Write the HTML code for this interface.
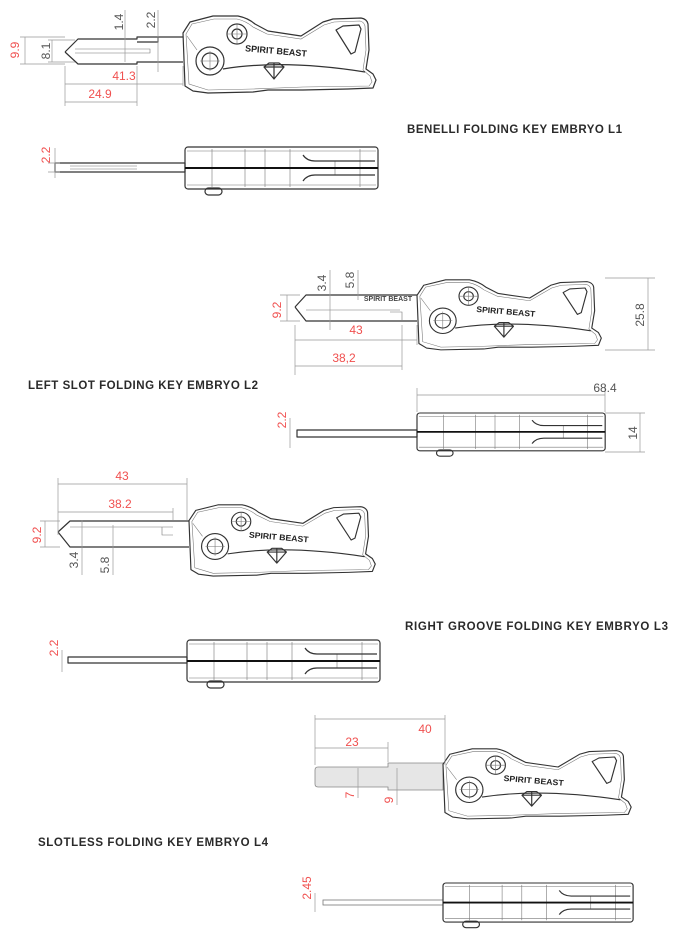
<!DOCTYPE html>
<html><head><meta charset="utf-8"><style>
html,body{margin:0;padding:0;background:#fff;}
svg{display:block;}
.o{fill:none;stroke:#333;stroke-width:1.2;stroke-linejoin:round}
.t{fill:none;stroke:#777;stroke-width:0.6}
.d{fill:none;stroke:#999;stroke-width:0.7}
.r{fill:#f0504f;font-family:"Liberation Sans",sans-serif;font-size:12px}
.g{fill:#555;font-family:"Liberation Sans",sans-serif;font-size:12px}
.ti{fill:#2a2a2a;font-family:"Liberation Sans",sans-serif;font-size:11.5px;font-weight:bold}
</style></head><body>
<svg width="678" height="950" viewBox="0 0 678 950" xmlns="http://www.w3.org/2000/svg">
<defs>
<g id="head">
 <path class="o" fill="#fff" d="M0,19 L7,8 L30,2 L55,2 Q65,4 72,10 L85,17 L118,22 L140,8 L150,5 L178,4 Q184,5 185,10 L186,36 L183,55 L190,60 L193,66 L190,74 L165,75 L120,76 L85,76 L70,78 L25,79 L10,77 L2,72 Z"/>
 <path class="t" d="M3,20 L9,10 L31,5 L54,5 Q63,7 70,13 L84,20 L118,25 L141,11 L151,8 L177,7 Q181,8 182,12 L183,36 L180,56 L187,62 L189,68 L186,72 L120,73 L70,75 L25,76 L6,70 Z"/>
 <path class="o" d="M153,16 L160,12 L176,11 L178,15 L172,38 L168,40 Z"/>
 <circle class="o" cx="27" cy="47" r="14"/><circle class="o" cx="27" cy="47" r="8"/>
 <circle class="o" cx="54" cy="20" r="10"/><circle class="o" cx="54" cy="20" r="5"/>
 <path class="t" d="M17,47 H37 M27,37 V57 M44,20 H64 M54,10 V30"/>
 <path class="o" d="M40,55 Q100,45 182,58"/>
 <path class="t" d="M4,22 L14,36"/>
 <text x="93" y="40" transform="rotate(5 93 37)" text-anchor="middle" font-family="Liberation Sans,sans-serif" font-size="9" font-weight="bold" fill="#222">SPIRIT BEAST</text>
 <path class="o" d="M81,53 L86,49 L96,49 L101,53 L91,65 Z M81,53 H101 M91,49 V65"/>
</g>
<g id="side">
 <rect class="o" x="0" y="0" width="193" height="42" rx="3" fill="#fff"/>
 <path class="t" d="M2,4 H191 M2,38 H191 M27,2 V40 M60,2 V40 M80,2 V40 M105,2 V40 M150,14 V28 M175,2 V40"/>
 <path d="M0,21 H193" stroke="#111" stroke-width="2"/>
 <path class="o" d="M118,8 Q122,14 130,14 L190,14 M118,34 Q122,28 130,28 L190,28"/>
 <rect class="o" x="20" y="41" width="17" height="7" rx="3.5" fill="#fff"/>
</g>
</defs>

<!-- KEY 1 -->
<path class="o" d="M65,52 L78,39 L137,39 L137,37 L158,37 L183,37 M65,52 L78,64 L137,64 L137,62 L183,62 M158,37 L158,42 L137,42"/>
<path class="t" d="M75,49 H150 V53 H75"/>
<use href="#head" transform="translate(183,14)"/>
<path class="d" d="M20,37 H65 M20,64 H65 M25,37 V64 M52,40 V62 M48,40 H75 M48,62 H75 M125,10 V62 M158,10 V72 M65,66 V106 M137,66 V106 M183,66 V86 M65,84 H183 M65,102 H137"/>
<text class="r" transform="translate(19,50) rotate(-90)" text-anchor="middle">9.9</text>
<text class="g" transform="translate(50,51) rotate(-90)" text-anchor="middle">8.1</text>
<text class="g" transform="translate(123,22) rotate(-90)" text-anchor="middle">1.4</text>
<text class="g" transform="translate(155,20) rotate(-90)" text-anchor="middle">2.2</text>
<text class="r" x="124" y="80" text-anchor="middle">41.3</text>
<text class="r" x="100" y="98" text-anchor="middle">24.9</text>
<text class="ti" x="407" y="133" textLength="215">BENELLI FOLDING KEY EMBRYO L1</text>
<rect class="o" x="55" y="163" width="130" height="9" fill="#fff"/>
<path class="t" d="M70,166 H137 M70,169 H137"/>
<use href="#side" transform="translate(185,147)"/>
<path class="d" d="M55,148 V178 M48,163 H60 M48,172 H60"/>
<text class="r" transform="translate(50,155) rotate(-90)" text-anchor="middle">2.2</text>

<!-- KEY 2 -->
<path class="o" d="M295,307 L306,295 L417,295 M295,307 L306,321 L417,321"/>
<path class="t" d="M306,310 H400 M390,312 H402 V320"/>
<text x="388" y="301" text-anchor="middle" font-family="Liberation Sans,sans-serif" font-size="7" font-weight="bold" fill="#444">SPIRIT BEAST</text>
<use href="#head" transform="translate(417,278) scale(0.955,0.91)"/>
<path class="d" d="M280,295 H300 M280,321 H300 M287,295 V321 M330,270 V330 M358,270 V300 M295,325 V375 M417,325 V345 M402,325 V370 M295,340 H417 M295,366 H402 M605,278 H655 M605,350 H655 M648,278 V350 M417,388 V412 M605,385 V412 M417,395 H605"/>
<text class="g" transform="translate(326,283) rotate(-90)" text-anchor="middle">3.4</text>
<text class="g" transform="translate(354,280) rotate(-90)" text-anchor="middle">5.8</text>
<text class="r" transform="translate(281,310) rotate(-90)" text-anchor="middle">9.2</text>
<text class="r" x="356" y="334" text-anchor="middle">43</text>
<text class="r" x="344" y="362" text-anchor="middle">38,2</text>
<text class="g" transform="translate(644,315) rotate(-90)" text-anchor="middle">25.8</text>
<text class="g" x="605" y="392" text-anchor="middle" fill="#999">68.4</text>
<text class="ti" x="28" y="389" textLength="230">LEFT SLOT FOLDING KEY EMBRYO L2</text>
<rect class="o" x="297" y="430" width="120" height="7" fill="#fff"/>
<use href="#side" transform="translate(417,413) scale(0.975,0.9)"/>
<path class="d" d="M290,418 V448 M605,413 H645 M605,452 H645 M640,413 V452"/>
<text class="r" transform="translate(286,420) rotate(-90)" text-anchor="middle">2.2</text>
<text class="g" transform="translate(637,433) rotate(-90)" text-anchor="middle">14</text>

<!-- KEY 3 -->
<path class="o" d="M58,532 L70,521 L173,521 L189,521 M58,532 L70,547 L173,547 L189,547"/>
<path class="t" d="M70,527 H173 M162,527 V535 H173"/>
<use href="#head" transform="translate(189,503) scale(0.965,0.925)"/>
<path class="d" d="M58,478 V535 M187,478 V520 M173,508 V520 M58,484 H187 M58,512 H173 M40,521 H60 M40,547 H60 M45,521 V547 M82,520 V575 M113,525 V575"/>
<text class="r" x="122" y="480" text-anchor="middle">43</text>
<text class="r" x="120" y="508" text-anchor="middle">38.2</text>
<text class="r" transform="translate(41,535) rotate(-90)" text-anchor="middle">9.2</text>
<text class="g" transform="translate(78,560) rotate(-90)" text-anchor="middle">3.4</text>
<text class="g" transform="translate(109,565) rotate(-90)" text-anchor="middle">5.8</text>
<text class="ti" x="405" y="630" textLength="263">RIGHT GROOVE FOLDING KEY EMBRYO L3</text>
<rect class="o" x="68" y="657" width="119" height="6" fill="#fff"/>
<use href="#side" transform="translate(187,640)"/>
<path class="d" d="M62,650 V672"/>
<text class="r" transform="translate(58,648) rotate(-90)" text-anchor="middle">2.2</text>

<!-- KEY 4 -->
<path d="M318,767 H388 V763 H443 V790 H388 V787 H318 Q315,787 315,784 V770 Q315,767 318,767 Z" fill="#e6e6e6" stroke="#888" stroke-width="0.8"/>
<use href="#head" transform="translate(443,747) scale(0.975,0.91)"/>
<path class="d" d="M315,715 V765 M445,715 V765 M388,742 V762 M315,719 H445 M315,748 H388 M358,768 V798 M397,768 V805"/>
<text class="r" x="425" y="733" text-anchor="middle">40</text>
<text class="r" x="352" y="746" text-anchor="middle">23</text>
<text class="r" transform="translate(354,795) rotate(-90)" text-anchor="middle">7</text>
<text class="r" transform="translate(393,800) rotate(-90)" text-anchor="middle">9</text>
<text class="ti" x="38" y="846" textLength="230">SLOTLESS FOLDING KEY EMBRYO L4</text>
<rect x="323" y="900" width="120" height="5" fill="#fff" stroke="#777" stroke-width="0.8"/>
<use href="#side" transform="translate(443,883) scale(0.985,0.93)"/>
<path class="d" d="M315,893 V912"/>
<text class="r" transform="translate(311,888) rotate(-90)" text-anchor="middle">2.45</text>
</svg>
</body></html>
